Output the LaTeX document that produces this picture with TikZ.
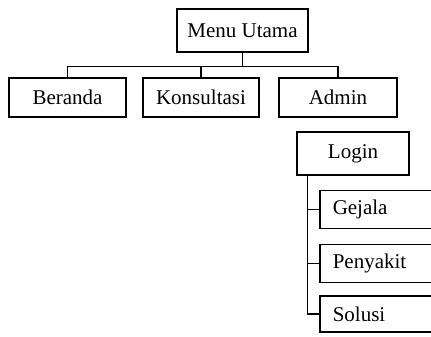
\documentclass[tikz,border=0pt]{standalone}
\usepackage{fontspec}
\setmainfont{Liberation Serif}
\newfontfamily\boxfont{Liberation Serif}
\usetikzlibrary{calc}
\usetikzlibrary{positioning}

\tikzset{
  menubox/.style={draw, line width=1.5pt, fill=white, inner sep=0pt,
    font=\boxfont\fontsize{21}{24}\selectfont},
  subbox/.style={menubox, anchor=west, minimum width=122pt, minimum height=38pt,
    inner xsep=13pt, text width=96pt, align=left},
  link/.style={draw, line width=1.5pt}
}

\begin{document}
\begin{tikzpicture}[x=1pt, y=-1pt]
  \useasboundingbox (0,0) rectangle (431,337);
  \clip (0,0) rectangle (431,337);

  \node [menubox, minimum width=131pt, minimum height=43pt] (menu) at (242.5,30.5) {Menu Utama};

  \begin{scope}[every node/.style={menubox, minimum height=39pt}]
    \node [minimum width=117pt] (beranda) at (67.5,97.5) {Beranda};
    \node [minimum width=116pt] (konsultasi) at (201,97.5) {Konsultasi};
    \node [minimum width=118pt] (admin) at (338,97.5) {Admin};
  \end{scope}

  \node [menubox, minimum width=112pt, minimum height=43pt] (login) at (353,153.5) {Login};

  \node [subbox] (gejala) at (319,209.5) {Gejala};
  \node [subbox] (penyakit) at (319,263.5) {Penyakit};
  \node [subbox, minimum height=36pt] (solusi) at (319,314) {Solusi};

  % menu tree
  \coordinate (bus) at ($(menu.south)+(0,14)$);
  \draw [link] (menu.south) -- (bus);
  \draw [link] (beranda.north) |- (bus) -| (admin.north);
  \draw [link] (konsultasi.north) -- (konsultasi.north |- bus);

  % admin sub menu
  \coordinate (spine) at ($(login.south west)+(11,0)$);
  \draw [link] (spine) |- (solusi.west);
  \draw [link] (gejala.west) -- (gejala.west -| spine);
  \draw [link] (penyakit.west) -- (penyakit.west -| spine);
\end{tikzpicture}
\end{document}
